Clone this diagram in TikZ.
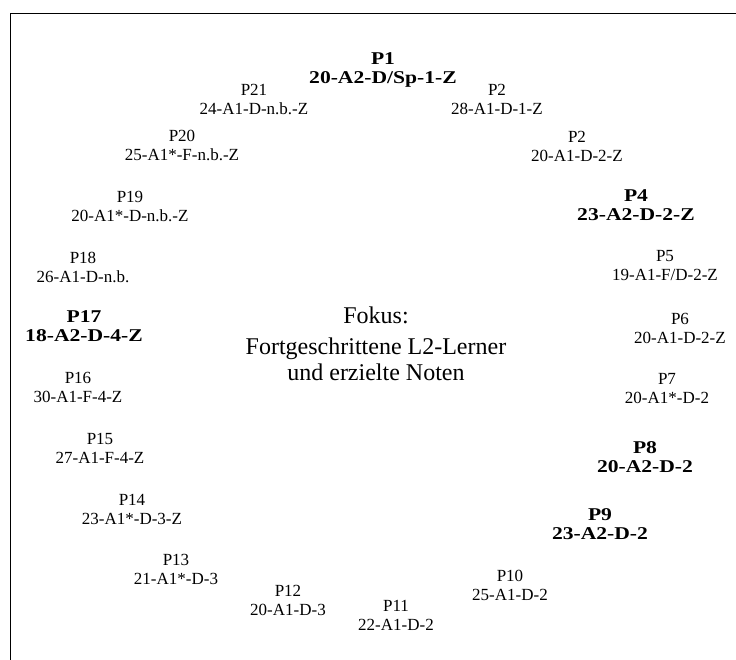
\documentclass[tikz,border=0pt]{standalone}
\usepackage{fontspec}
\setmainfont{Liberation Serif}
\newfontfamily\widefont[FakeStretch=1.2]{Liberation Serif}
\usepackage{tikz}

\tikzset{
	lbl/.style={align=center, inner sep=0pt, font=\fontsize{17}{19}\selectfont},
	lblbold/.style={align=center, inner sep=0pt, font=\widefont\bfseries\fontsize{18}{19}\selectfont},
	focus/.style={align=center, inner sep=0pt, font=\fontsize{24}{26}\selectfont}
}

\begin{document}
\begin{tikzpicture}[x=1pt,y=-1pt]
		\useasboundingbox (0,0) rectangle (736,660);

		% Frame (cut at right and bottom)
		\coordinate (fbl) at (10.5,660);
		\coordinate (ftl) at (10.5,13.3);
		\coordinate (ftr) at (736,13.3);
		\draw[line width=1pt] (fbl) -- (ftl) -- (ftr);

		% Centre text
		\node[focus] (fokus) at (376,344) {Fokus:\\[5pt] Fortgeschrittene L2-Lerner\\ und erzielte Noten};

		% Learners around the centre
		\foreach \i/\lab/\x/\y/\code in {21/P21/254/99/{24-A1-D-n.b.-Z}, 2/P2/497/99/{28-A1-D-1-Z},
				3/P2/577/146/{20-A1-D-2-Z}, 5/P5/665/266/{19-A1-F/D-2-Z}, 6/P6/680/328/{20-A1-D-2-Z},
				7/P7/667/388.5/{20-A1*-D-2}, 10/P10/510/585/{25-A1-D-2}, 11/P11/396/615/{22-A1-D-2},
				12/P12/288/600/{20-A1-D-3}, 13/P13/176/569/{21-A1*-D-3}, 14/P14/132/509/{23-A1*-D-3-Z},
				15/P15/100/448/{27-A1-F-4-Z}, 16/P16/78/387.5/{30-A1-F-4-Z}, 18/P18/83/267/{26-A1-D-n.b.},
				19/P19/130/206/{20-A1*-D-n.b.-Z}, 20/P20/182/145.5/{25-A1*-F-n.b.-Z}} {
				\node[lbl] (p\i) at (\x,\y) {\lab\\ \code};
			}

		% Advanced learners in bold
		\foreach \i/\x/\y/\code in {1/383/70/{20-A2-D/Sp-1-Z}, 4/636/205.5/{23-A2-D-2-Z},
				8/645/457.5/{20-A2-D-2}, 9/600/524.5/{23-A2-D-2}, 17/84/326/{18-A2-D-4-Z}} {
				\node[lblbold] (p\i) at (\x,\y) {P\i\\ \code};
			}
	\end{tikzpicture}
\end{document}
